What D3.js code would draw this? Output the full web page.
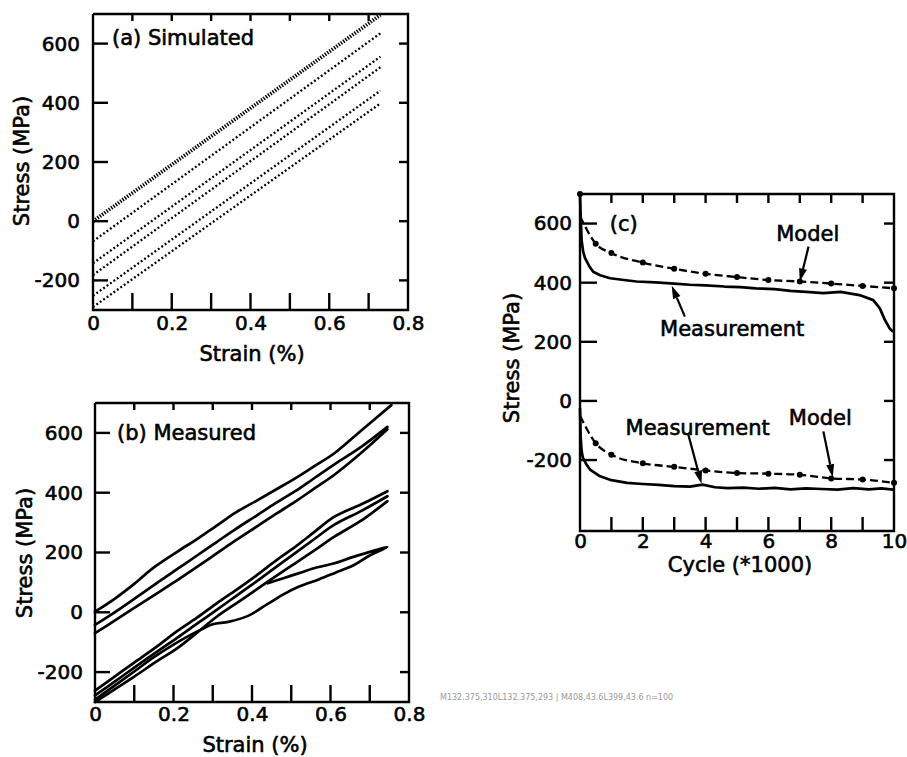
<!DOCTYPE html>
<html>
<head>
<meta charset="utf-8">
<script src="https://cdn.jsdelivr.net/npm/d3@7"></script>
<style>
  html, body { margin: 0; padding: 0; background: #fff; }
  svg { display: block; }
  text { font-family: "DejaVu Sans", sans-serif; fill: #000; stroke: #000; stroke-width: 0.6px; }
</style>
</head>
<body>
<svg id="chart" width="907" height="757"></svg>
<script>
// ---------------- DATA ----------------
const simStrain = [0, 0.73];
const simLine1 = [0, 697];
const simLine2 = [-68, 635];
const simLine3 = [-142, 556];
const simLine4 = [-182, 520];
const simLine5 = [-252, 441];
const simLine6 = [-290, 398];
const simLines = [simLine1, simLine2, simLine3, simLine4, simLine5, simLine6];

const measTopStrain   = [0, 0.05, 0.1, 0.15, 0.21, 0.26, 0.31, 0.36, 0.41, 0.46, 0.51, 0.56, 0.61, 0.68, 0.755];
const measTopStress   = [2, 45, 95, 150, 203, 245, 290, 335, 372, 410, 448, 490, 532, 610, 693];
const measMidStrain   = [0, 0.05, 0.1, 0.16, 0.21, 0.26, 0.31, 0.36, 0.41, 0.46, 0.51, 0.56, 0.61, 0.68, 0.745];
const measMidStress   = [-42, 0, 45, 100, 145, 190, 235, 280, 322, 365, 405, 450, 495, 555, 620];
const measLowStrain   = [0, 0.05, 0.1, 0.16, 0.21, 0.26, 0.31, 0.36, 0.41, 0.46, 0.51, 0.56, 0.61, 0.68, 0.745];
const measLowStress   = [-70, -28, 15, 65, 108, 152, 197, 242, 285, 328, 370, 415, 460, 535, 612];
const measL1Strain    = [0, 0.05, 0.1, 0.16, 0.21, 0.26, 0.31, 0.36, 0.41, 0.46, 0.51, 0.56, 0.61, 0.68, 0.745];
const measL1Stress    = [-262, -215, -168, -112, -62, -18, 30, 75, 122, 172, 219, 270, 320, 362, 405];
const measL2Strain    = [0, 0.05, 0.1, 0.16, 0.21, 0.26, 0.31, 0.36, 0.41, 0.46, 0.51, 0.56, 0.61, 0.68, 0.745];
const measL2Stress    = [-278, -232, -185, -130, -85, -38, 8, 55, 102, 150, 198, 246, 293, 340, 388];
const measL3Strain    = [0, 0.05, 0.1, 0.16, 0.21, 0.26, 0.31, 0.36, 0.41, 0.46, 0.51, 0.56, 0.61, 0.68, 0.745];
const measL3Stress    = [-300, -258, -215, -162, -120, -68, -15, 30, 75, 120, 164, 208, 253, 308, 372];
const measLoopStrain  = [0, 0.05, 0.1, 0.15, 0.2, 0.24, 0.27, 0.3, 0.34, 0.39, 0.44, 0.48, 0.52, 0.57, 0.61, 0.66, 0.7, 0.745, 0.69, 0.65, 0.61, 0.56, 0.52, 0.48, 0.44];
const measLoopStress  = [-292, -245, -198, -150, -108, -78, -58, -40, -32, -12, 28, 60, 86, 110, 131, 158, 190, 218, 198, 182, 164, 148, 131, 114, 97];

const modelCycle       = [0, 0.5, 1, 2, 3, 4, 5, 6, 7, 8, 9, 10];
const modelUpperStress = [625, 532, 500, 468, 447, 430, 419, 409, 404, 397, 389, 381];
const modelLowerStress = [-50, -143, -182, -211, -223, -235, -244, -246, -250, -262, -266, -277];
const measUpperCycle  = [0, 0.02, 0.05, 0.1, 0.16, 0.3, 0.42, 0.64, 0.96, 1.4, 1.8, 2.4, 3.0, 3.5, 4.0, 4.6, 5.1, 5.6, 6.2, 6.7, 7.2, 7.75, 8.3, 8.9, 9.34, 9.55, 9.71, 9.87, 9.97];
const measUpperStress = [700, 630, 545, 505, 483, 455, 437, 425, 415, 409, 404, 401, 397, 393, 391, 387, 385, 381, 378, 372, 369, 365, 369, 358, 341, 313, 274, 244, 234];
const measLowerCycle  = [0, 0.02, 0.05, 0.09, 0.2, 0.32, 0.64, 1.0, 1.5, 2.0, 2.5, 3.0, 3.5, 3.9, 4.3, 4.7, 5.2, 5.7, 6.2, 6.7, 7.2, 7.7, 8.2, 8.7, 9.2, 9.6, 9.97];
const measLowerStress = [-25, -120, -168, -192, -214, -232, -255, -268, -277, -281, -284, -288, -290, -283, -292, -295, -293, -297, -294, -299, -296, -298, -300, -295, -299, -296, -300];

const strainTicks = [0.1, 0.2, 0.3, 0.4, 0.5, 0.6, 0.7];
const strainLabels = [0, 0.2, 0.4, 0.6, 0.8];
const stressTicks = [-200, 0, 200, 400, 600];
const cycleTicks = [1, 2, 3, 4, 5, 6, 7, 8, 9];
const cycleLabels = [0, 2, 4, 6, 8, 10];

// ---------------- DRAW ----------------
const svg = d3.select("#chart");
const AX = 2.4;
const diag = [];

// scales
const xa = d3.scaleLinear().domain([0, 0.8]).range([93, 408]);
const ya = d3.scaleLinear().domain([-300, 700]).range([310, 14]);
const xb = d3.scaleLinear().domain([0, 0.8]).range([95, 409]);
const yb = d3.scaleLinear().domain([-300, 700]).range([702, 403]);
const xc = d3.scaleLinear().domain([0, 10]).range([580, 894]);
const yc = d3.scaleLinear().domain([-440, 700]).range([531, 194]);

// frames + inward ticks drawn FIRST, each tick as its own path
function ticksAndFrame(xs, ys, xTicks, bt, tt, lt, rt) {
  const g = svg.append("g");
  const X0 = xs.range()[0], X1 = xs.range()[1];
  const Yb = ys.range()[0], Yt = ys.range()[1];
  const segs = [];
  xTicks.forEach(v => {
    segs.push([[xs(v), Yb], [xs(v), Yb - bt]]);
    segs.push([[xs(v), Yt], [xs(v), Yt + tt]]);
  });
  stressTicks.forEach(v => {
    segs.push([[X0, ys(v)], [X0 + lt, ys(v)]]);
    segs.push([[X1, ys(v)], [X1 - rt, ys(v)]]);
  });
  const gen = d3.line();
  segs.forEach(s => g.append("path").attr("d", gen(s)).attr("fill", "none")
    .attr("stroke", "#000").attr("stroke-width", AX));
  g.append("path").attr("d", gen([[X0, Yt], [X1, Yt], [X1, Yb], [X0, Yb], [X0, Yt]]))
    .attr("fill", "none").attr("stroke", "#000").attr("stroke-width", AX).attr("stroke-linejoin", "miter");
  diag.push(gen(segs[0]) + " | " + gen(segs[segs.length - 1]));
}
ticksAndFrame(xa, ya, strainTicks, 17, 7, 15, 9);
ticksAndFrame(xb, yb, strainTicks, 17, 7, 15, 9);
ticksAndFrame(xc, yc, cycleTicks, 14, 9, 17, 10);

function labels(g, x, y, xLabels, xPad, yPad) {
  g.append("g").attr("transform", `translate(0,${y.range()[0]})`)
    .call(d3.axisBottom(x).tickValues(xLabels).tickSize(0).tickPadding(xPad).tickFormat(d => String(d)));
  g.append("g").attr("transform", `translate(${x.range()[0]},0)`)
    .call(d3.axisLeft(y).tickValues(stressTicks).tickSize(0).tickPadding(yPad).tickFormat(d => String(d)));
  g.selectAll(".domain").remove();
  g.selectAll(".tick line").remove();
  g.selectAll(".tick text").attr("font-size", 20).attr("fill", "#000");
}

function title(g, txt, x, y, rot) {
  g.append("text").attr("transform", `translate(${x},${y}) rotate(${rot || 0})`)
    .attr("text-anchor", "middle").attr("dominant-baseline", "central")
    .attr("font-size", 21).text(txt);
}

// ---- Panel (a)
const ga = svg.append("g");
labels(ga, xa, ya, strainLabels, 6, 13);
const lineA = d3.line().x(d => xa(d[0])).y(d => ya(d[1]));
simLines.forEach((ln, i) => {
  const pts = simStrain.map((s, j) => [s, ln[j]]);
  ga.append("path").attr("d", lineA(pts)).attr("fill", "none").attr("stroke", "#000")
    .attr("stroke-width", i === 0 ? 3.8 : 2.3)
    .attr("stroke-dasharray", i === 0 ? "1.4,1.4" : "1.9,2.3");
});
ga.append("text").attr("x", 112).attr("y", 38).attr("dominant-baseline", "central")
  .attr("font-size", 21).text("(a) Simulated");
title(ga, "Stress (MPa)", 22, 161, -90);
title(ga, "Strain (%)", 252, 354);

// ---- Panel (b)
const gb = svg.append("g");
labels(gb, xb, yb, strainLabels, 5, 12);
const lineB = d3.line().x(d => xb(d[0])).y(d => yb(d[1])).curve(d3.curveCatmullRom.alpha(0.5));
[[measTopStrain, measTopStress], [measMidStrain, measMidStress], [measLowStrain, measLowStress],
 [measL1Strain, measL1Stress], [measL2Strain, measL2Stress], [measL3Strain, measL3Stress],
 [measLoopStrain, measLoopStress]].forEach(([sx, sy]) => {
  const pts = sx.map((s, j) => [s, sy[j]]);
  gb.append("path").attr("d", lineB(pts)).attr("fill", "none").attr("stroke", "#000")
    .attr("stroke-width", 2.7).attr("stroke-linejoin", "round").attr("stroke-linecap", "round");
});
gb.append("text").attr("x", 117).attr("y", 433).attr("dominant-baseline", "central")
  .attr("font-size", 21).text("(b) Measured");
title(gb, "Stress (MPa)", 25, 553, -90);
title(gb, "Strain (%)", 255, 745);

// ---- Panel (c)
const gc = svg.append("g");
labels(gc, xc, yc, cycleLabels, 3, 8);
const lineC = d3.line().x(d => xc(d[0])).y(d => yc(d[1]));
[[measUpperCycle, measUpperStress], [measLowerCycle, measLowerStress]].forEach(([cx, cy]) => {
  gc.append("path").attr("d", lineC(cx.map((c, j) => [c, cy[j]]))).attr("fill", "none")
    .attr("stroke", "#000").attr("stroke-width", 2.7).attr("stroke-linejoin", "round");
});
const lineCm = d3.line().x(d => xc(d[0])).y(d => yc(d[1])).curve(d3.curveMonotoneX);
[modelUpperStress, modelLowerStress].forEach(ms => {
  const pts = modelCycle.map((c, j) => [c, ms[j]]);
  gc.append("path").attr("d", lineCm(pts)).attr("fill", "none")
    .attr("stroke", "#000").attr("stroke-width", 2.3).attr("stroke-dasharray", "8,4");
  gc.selectAll(null).data(pts.slice(1)).enter().append("circle")
    .attr("cx", d => xc(d[0])).attr("cy", d => yc(d[1])).attr("r", 3).attr("fill", "#000");
});
gc.append("circle").attr("cx", xc(0)).attr("cy", yc(700)).attr("r", 3).attr("fill", "#000");

const notes = [
  {t: "(c)", x: 0.95, y: 600},
  {t: "Model", x: 6.25, y: 565},
  {t: "Measurement", x: 2.55, y: 245},
  {t: "Measurement", x: 1.45, y: -92},
  {t: "Model", x: 6.65, y: -58}
];
notes.forEach(n => gc.append("text").attr("x", xc(n.x)).attr("y", yc(n.y))
  .attr("dominant-baseline", "central").attr("font-size", 21).text(n.t));
const arrows = [
  {x1: 7.28, y1: 522, x2: 7.0, y2: 404},
  {x1: 3.34, y1: 285, x2: 2.92, y2: 390},
  {x1: 3.45, y1: -114, x2: 3.87, y2: -280},
  {x1: 7.75, y1: -103, x2: 8.05, y2: -258}
];
arrows.forEach(a => {
  const x1 = xc(a.x1), y1 = yc(a.y1), x2 = xc(a.x2), y2 = yc(a.y2);
  const ang = Math.atan2(y2 - y1, x2 - x1);
  const L = 13, W = 4;
  const bx = x2 - L * Math.cos(ang), by = y2 - L * Math.sin(ang);
  gc.append("line").attr("x1", x1).attr("y1", y1).attr("x2", bx).attr("y2", by)
    .attr("stroke", "#000").attr("stroke-width", 2.2);
  const p = d3.path();
  p.moveTo(x2, y2);
  p.lineTo(bx + W * Math.sin(ang), by - W * Math.cos(ang));
  p.lineTo(bx - W * Math.sin(ang), by + W * Math.cos(ang));
  p.closePath();
  gc.append("path").attr("d", p.toString()).attr("fill", "#000");
});
title(gc, "Stress (MPa)", 512, 358, -90);
title(gc, "Cycle (*1000)", 740, 565);

// small diagnostic line (temporary)
svg.append("text").attr("x", 440).attr("y", 700).attr("font-size", 8).style("stroke", "none").style("fill", "#999")
  .text(diag[0] + " n=" + svg.selectAll("path").size());
</script>
</body>
</html>
